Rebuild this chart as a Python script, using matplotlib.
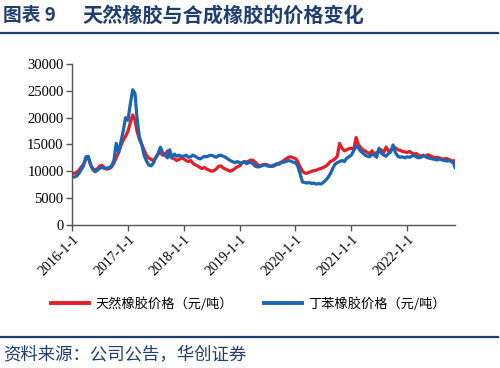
import matplotlib
matplotlib.use("Agg")
import matplotlib.pyplot as plt
from matplotlib.lines import Line2D
import pandas as pd

# ---- data (semi-monthly readings, yuan/ton) ----
natural_rubber = [
    # 2016
    9700, 9600, 9800, 10200, 10800, 11200, 12300, 12600, 11200, 10500, 10200, 10500,
    11000, 11100, 10600, 10400, 10500, 10800, 11500, 12500, 13500, 14800, 15800, 16500,
    # 2017
    17500, 19000, 20500, 19500, 17500, 16000, 15000, 14000, 13000, 12500, 12200, 12000,
    12500, 13200, 13500, 13000, 13000, 13800, 12800, 12500, 12300, 12000, 12200, 12500,
    # 2018
    12300, 12000, 11800, 12000, 11500, 11200, 11000, 10700, 10500, 10700, 10400, 10200,
    10000, 10100, 10400, 10900, 11000, 10600, 10400, 10200, 10000, 10200, 10500, 10800,
    # 2019
    11000, 11500, 11800, 11700, 11900, 12100, 12000, 11600, 11200, 11000, 11200, 11300,
    11200, 11000, 10900, 11000, 11300, 11500, 11700, 12000, 12300, 12600, 12700, 12500,
    # 2020
    12400, 11800, 10800, 10000, 9700, 9600, 9800, 10000, 10100, 10200, 10400, 10500,
    10700, 10900, 11300, 11800, 12000, 12300, 12800, 15200, 14300, 13800, 14000, 14200,
    # 2021
    14300, 14000, 16300, 15000, 14500, 14000, 13800, 13500, 13300, 13800, 13200, 13500,
    13800, 14000, 13500, 14500, 13800, 14000, 14200, 14400, 14000, 13900, 13700, 13600,
    # 2022
    13500, 13700, 13400, 13200, 13300, 13000, 12800, 13000, 12700, 13100, 12900, 12700,
    12500, 12600, 12500, 12300, 12300, 12400, 12200, 12000, 11900, 12000,
]
sbr_rubber = [
    # 2016
    9000, 8900, 9100, 9600, 10300, 11000, 12700, 12800, 11300, 10300, 9900, 10200,
    10600, 10700, 10500, 10600, 10700, 11000, 12000, 15200, 13500, 15500, 17500, 20000,
    # 2017
    19500, 22500, 25200, 24500, 20000, 16500, 15000, 13000, 12000, 11200, 11000, 11500,
    12500, 13200, 14500, 13500, 13000, 12500, 14000, 12500, 13200, 12800, 13000, 12800,
    # 2018
    12800, 13000, 12600, 12700, 13000, 12800, 12500, 12300, 12500, 12800, 12700, 12900,
    13000, 12800, 12600, 12900, 13000, 12800, 12600, 12300, 12000, 11800, 11600, 11800,
    # 2019
    11600, 11500, 11800, 11400, 11600, 11700, 11300, 10900, 10800, 10900, 11100, 11200,
    11000, 10900, 11000, 11200, 11400, 11300, 11600, 11700, 11800, 12000, 11900, 11700,
    # 2020
    11600, 11000, 9500, 8000, 7900, 7800, 7900, 7700, 7800, 7600, 7700, 7600,
    7900, 8300, 8800, 9500, 10500, 11300, 11600, 11800, 12000, 11800, 12400, 12700,
    # 2021
    13000, 13800, 14700, 14400, 13800, 13400, 13000, 12800, 12700, 13200, 13000, 12600,
    14300, 13400, 13000, 12800, 13300, 13600, 14900, 13500, 12800, 12600, 12700, 12500,
    # 2022
    12700, 12600, 12800, 13000, 12700, 12500, 12600, 12900, 12800, 12500, 12400, 12300,
    12200, 12100, 12300, 12100, 12000, 11900, 12000, 11800, 11500, 10700,
]
series_labels = ["天然橡胶价格（元/吨）", "丁苯橡胶价格（元/吨）"]
tick_years = [2016, 2017, 2018, 2019, 2020, 2021, 2022]
y_ticks = [0, 5000, 10000, 15000, 20000, 25000, 30000]

# dates: 1st and 16th of each month
dates = []
for y in range(2016, 2023):
    for m in range(1, 13):
        dates.append(pd.Timestamp(y, m, 1))
        dates.append(pd.Timestamp(y, m, 16))
dates = dates[:len(natural_rubber)]
dates[-1] = pd.Timestamp(2022, 11, 10)

RED = "#E41E26"
BLUE = "#1A66B4"
NAVY = "#1F3D6E"

plt.rcParams['font.family'] = ['Noto Sans CJK SC', 'DejaVu Sans']

fig = plt.figure(figsize=(5.0, 3.68), dpi=100)
ax = fig.add_axes([0.144, 0.389, 0.766, 0.437])

ax.plot(dates, natural_rubber, color=RED, lw=2.3, solid_joinstyle='round')
ax.plot(dates, sbr_rubber, color=BLUE, lw=2.3, solid_joinstyle='round')

ax.set_ylim(0, 30000)
ax.set_yticks(y_ticks)
ax.set_xlim(pd.Timestamp(2016, 1, 1), pd.Timestamp(2022, 11, 10))
xt = [pd.Timestamp(y, 1, 1) for y in tick_years]
ax.set_xticks(xt)
ax.set_xticklabels([f"{y}-1-1" for y in tick_years], rotation=45, ha='right',
                   rotation_mode='anchor', family='Liberation Serif', fontsize=10)
ax.set_yticklabels([str(v) for v in y_ticks], family='Liberation Serif', fontsize=10.5)

for s in ['top', 'right']:
    ax.spines[s].set_visible(False)
for s in ['left', 'bottom']:
    ax.spines[s].set_color('#555555')
    ax.spines[s].set_linewidth(1.0)
ax.tick_params(axis='both', direction='out', length=4, color='#555555', width=1.0, pad=2)

handles = [Line2D([], [], color=RED, lw=2.8), Line2D([], [], color=BLUE, lw=2.8)]
fig.legend(handles, series_labels, loc='center', bbox_to_anchor=(0.497, 0.174), ncol=2,
           frameon=False, fontsize=9.5, handlelength=2.9, columnspacing=2.3, handletextpad=0.5)

# title and rules
fig.text(0.006, 0.958, "图表 9", fontsize=13.5, fontweight='bold', color=NAVY, va='center', ha='left')
fig.text(0.165, 0.958, "天然橡胶与合成橡胶的价格变化", fontsize=14.5, fontweight='bold',
         color=NAVY, va='center', ha='left')
fig.add_artist(Line2D([0.0, 0.996], [1 - 33/368, 1 - 33/368], color=NAVY, lw=1.6,
                      transform=fig.transFigure))
fig.add_artist(Line2D([0.0, 0.996], [1 - 337/368, 1 - 337/368], color=NAVY, lw=1.6,
                      transform=fig.transFigure))
fig.text(0.006, 1 - 355/368, "资料来源：公司公告，华创证券", fontsize=12.5, color=NAVY,
         va='center', ha='left')

fig.savefig("out.png", dpi=100)
